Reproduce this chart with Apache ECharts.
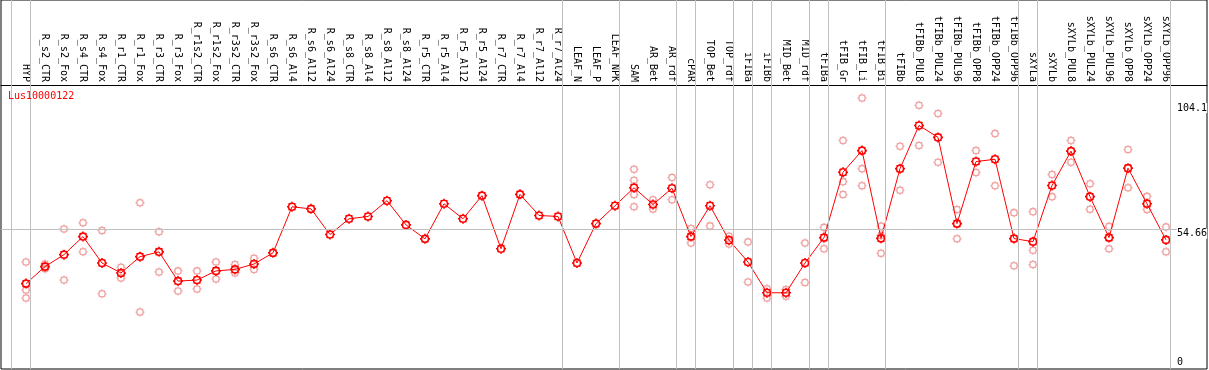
<!DOCTYPE html>
<html>
<head>
<meta charset="utf-8">
<script src="https://cdn.jsdelivr.net/npm/echarts@6/dist/echarts.min.js"></script>
<style>
html,body{margin:0;padding:0;background:#fff;}
#chart{width:1209px;height:370px;}
</style>
</head>
<body>
<div id="chart"></div>
<script>
const geneName = 'Lus10000122';

const categories = ['HYP','R_s2_CTR','R_s2_Fox','R_s4_CTR','R_s4_Fox','R_r1_CTR','R_r1_Fox','R_r3_CTR','R_r3_Fox',
  'R_r1s2_CTR','R_r1s2_Fox','R_r3s2_CTR','R_r3s2_Fox','R_s6_CTR','R_s6_Al4','R_s6_Al12','R_s6_Al24',
  'R_s8_CTR','R_s8_Al4','R_s8_Al12','R_s8_Al24','R_r5_CTR','R_r5_Al4','R_r5_Al12','R_r5_Al24',
  'R_r7_CTR','R_r7_Al4','R_r7_Al12','R_r7_Al24','LEAF_N','LEAF_P','LEAF_NPK','SAM','AR_Bet','AR_rdf',
  'cPAR','TOP_Bet','TOP_rdf','iFIBa','iFIBb','MID_Bet','MID_rdf','tFIBa','tFIB_Gr','tFIB_Li','tFIB_Bi',
  'tFIBb','tFIBb_PUL8','tFIBb_PUL24','tFIBb_PUL96','tFIBb_OPP8','tFIBb_OPP24','tFIBb_OPP96',
  'sXYLa','sXYLb','sXYLb_PUL8','sXYLb_PUL24','sXYLb_PUL96','sXYLb_OPP8','sXYLb_OPP24','sXYLb_OPP96'];

const meanValues = [33.1,39.8,44.5,51.6,41.2,37.3,43.7,45.6,34.1,34.5,38.1,38.7,40.8,45.2,63.3,62.5,52.4,
  58.6,59.5,65.7,56.2,50.7,64.5,58.6,67.7,46.8,68.2,59.9,59.5,41.2,56.7,63.7,70.8,64.2,70.6,
  51.6,63.7,50.2,41.6,29.5,29.5,41.2,51.2,76.9,85.4,50.9,78.3,95.3,90.6,56.7,81.1,82.0,50.8,
  49.6,71.7,85.2,67.3,51.2,78.5,64.5,50.3];

const replicates = [
  [41.6,30.6,27.4],[40.8,38.9],[54.6,34.5],[57.0,45.6],[54.0,29.1],[39.5,35.3],[64.9,21.9],[53.5,37.7],
  [38.1,30.2],[38.1,31.0],[41.6,34.9],[40.6,37.3],[43.1,38.7],
  [],[],[],[],[],[],[],[],[],[],[],[],[],[],[],[],[],[],[],
  [78.1,73.7,68.1,63.3],[66.1,62.4],[74.8,66.1],[54.8,49.1],[72.0,55.8],[51.7,48.7],[49.5,33.7],
  [31.1,27.4],[30.8,28.1],[49.1,33.5],[55.2,46.8],[89.4,73.2,68.1],[106.1,78.3,71.6],[55.7,52.0,45.0],
  [87.1,69.8],[103.2,87.4],[100.0,80.8],[62.2,50.7],[85.4,76.8],[92.1,71.6],[61.0,40.1],
  [61.4,46.2,40.6],[76.0,67.3],[89.4,80.8],[72.4,62.3],[55.6,46.8],[85.8,70.8],[67.4,62.2],[55.4,45.6]];

// group separators drawn just after these category indices
const separatorsAfter = [-1,0,28,31,34,35,37,38,39,41,42,45,52,53,60];
const yTickLabels = [54.66, 104.1];
const yZeroLabel = [0];
const refLineValue = 54.66;

const X_MIN = -25/19, X_MAX = 1181/19;
const Y_MIN = -0.47, Y_MAX = 111.2;
const FONT = 'DejaVu Sans Mono';
const GEAR = 'path://M8.5 5A3.5 3.5 0 1 1 1.5 5A3.5 3.5 0 1 1 8.5 5ZM5 0V1.2M5 8.8V10M0 5H1.2M8.8 5H10' +
  'M1.6 1.6L2.3 2.3M8.4 1.6L7.7 2.3M1.6 8.4L2.3 7.7M8.4 8.4L7.7 7.7';

const meanData = meanValues.map((v,i)=>[i,v]);
const repData = [];
replicates.forEach((arr,i)=>arr.forEach(v=>repData.push([i,v])));
const idx = categories.map((c,i)=>i);

const chart = echarts.init(document.getElementById('chart'), null, {renderer:'canvas'});
chart.setOption({
  animation:false,
  backgroundColor:'#fff',
  title:{text:geneName,left:8,top:91,padding:0,
    textStyle:{color:'#ff0000',fontSize:10,fontWeight:'normal',fontFamily:FONT}},
  grid:[
    {left:1,right:2,top:85,bottom:1,outerBoundsMode:'none',containLabel:false},
    {left:1,right:2,top:0,bottom:1,outerBoundsMode:'none',containLabel:false,show:true,
     borderColor:'#000',borderWidth:1,backgroundColor:'transparent'}
  ],
  xAxis:[
    {type:'value',gridIndex:0,position:'top',min:X_MIN,max:X_MAX,
     axisLine:{show:true,onZero:false,lineStyle:{color:'#000',width:1}},
     axisTick:{show:false},splitLine:{show:false},
     axisLabel:{customValues:idx,rotate:90,margin:3,fontSize:10,fontFamily:FONT,color:'#000',
       formatter:(v)=>categories[Math.round(v)]}},
    {type:'value',gridIndex:1,min:X_MIN,max:X_MAX,show:false}
  ],
  yAxis:[
    {type:'value',gridIndex:0,position:'right',min:Y_MIN,max:Y_MAX,z:5,
     axisLine:{show:false},axisTick:{show:false},splitLine:{show:false},
     axisLabel:{customValues:yTickLabels,inside:true,align:'left',verticalAlign:'top',margin:30,
       fontSize:10,fontFamily:FONT,color:'#000',backgroundColor:'#fff'}},
    {type:'value',gridIndex:0,position:'right',min:Y_MIN,max:Y_MAX,z:5,
     axisLine:{show:false},axisTick:{show:false},splitLine:{show:false},
     axisLabel:{customValues:yZeroLabel,inside:true,align:'left',verticalAlign:'bottom',margin:30,
       fontSize:10,fontFamily:FONT,color:'#000'}},
    {type:'value',gridIndex:1,min:0,max:1,show:false}
  ],
  series:[
    {type:'line',xAxisIndex:1,yAxisIndex:2,data:[],silent:true,
     markLine:{silent:true,symbol:['none','none'],label:{show:false},
       lineStyle:{color:'#c0c0c0',width:1,type:'solid'},
       data:separatorsAfter.map(s=>({xAxis:s+0.2}))}},
    {type:'line',xAxisIndex:0,yAxisIndex:0,data:[],silent:true,z:1,
     markLine:{silent:true,symbol:['none','none'],label:{show:false},
       lineStyle:{color:'#c0c0c0',width:1,type:'solid'},
       data:[{yAxis:refLineValue}]}},
    {name:'replicates',type:'scatter',xAxisIndex:0,yAxisIndex:0,data:repData,z:2,
     symbol:GEAR,symbolSize:9,symbolKeepAspect:true,
     itemStyle:{color:'rgba(0,0,0,0)',borderColor:'#ec8c8c',borderWidth:1.3}},
    {name:'mean',type:'line',xAxisIndex:0,yAxisIndex:0,data:meanData,z:3,
     symbol:GEAR,symbolSize:10,symbolKeepAspect:true,
     lineStyle:{color:'#ff0000',width:1},
     itemStyle:{color:'rgba(0,0,0,0)',borderColor:'#ff0000',borderWidth:1.6}}
  ]
});
</script>
</body>
</html>
